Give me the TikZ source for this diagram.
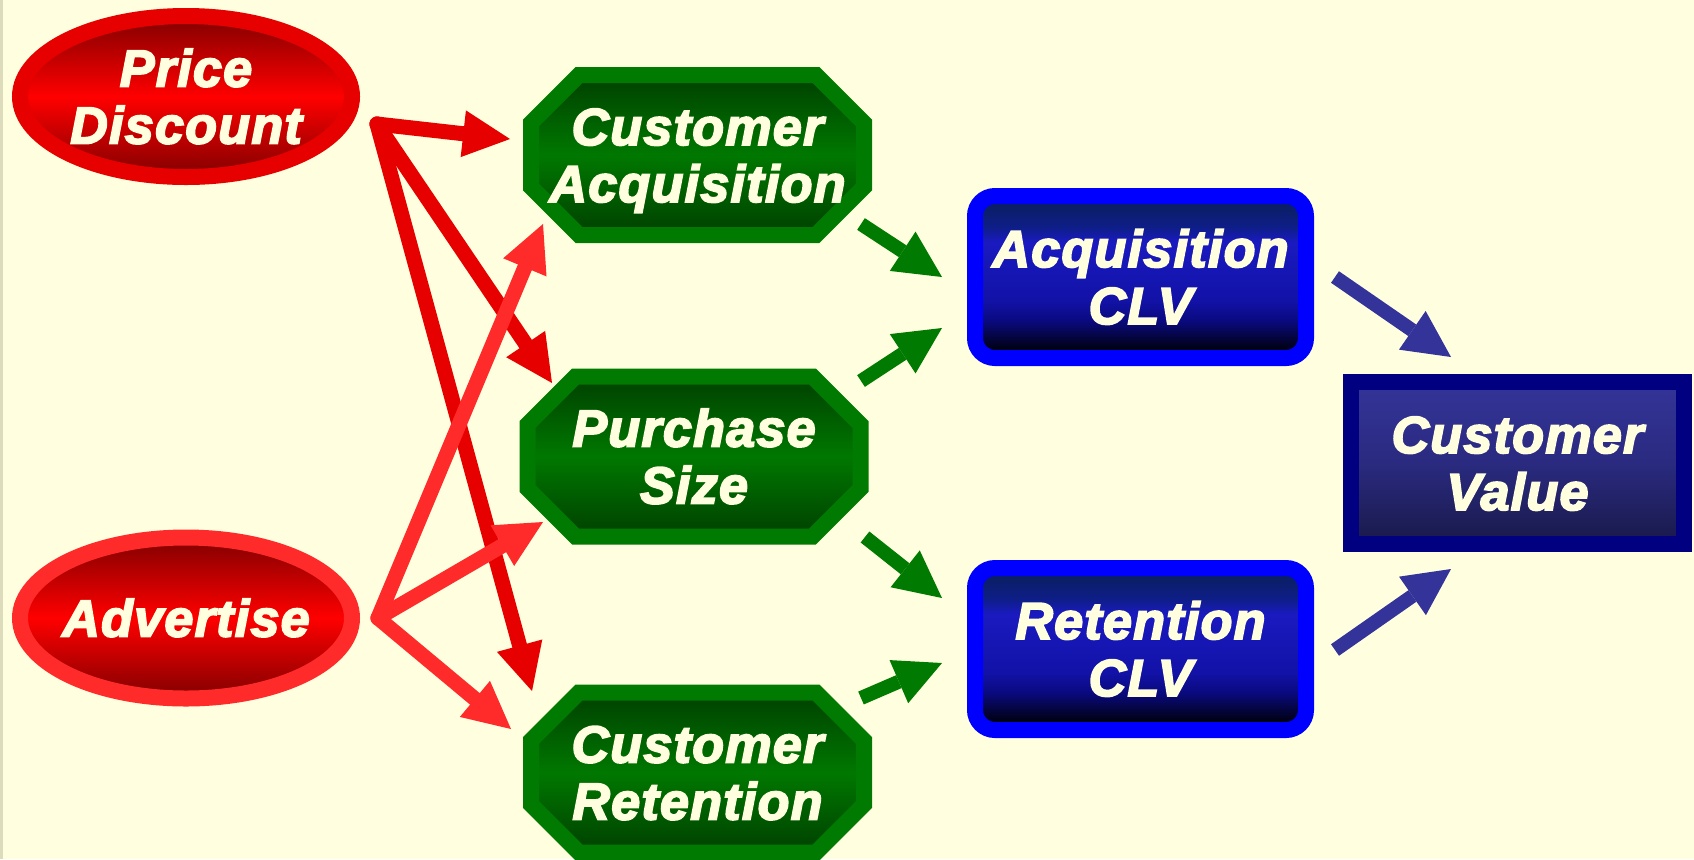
\documentclass[tikz,border=0pt]{standalone}
\usepackage{fontspec}
\newfontfamily\lblfont[FakeBold=3.5,LetterSpace=2.5]{Liberation Sans}
\usetikzlibrary{arrows.meta,shapes.geometric,calc}
\definecolor{bgyellow}{HTML}{FFFFE0}
\definecolor{stripc}{HTML}{DCDCBC}
\definecolor{pdred}{HTML}{E60000}
\definecolor{adred}{HTML}{FF2A2A}
\definecolor{dkred}{HTML}{800000}
\definecolor{brred}{HTML}{FF0000}
\definecolor{grn}{HTML}{007A00}
\definecolor{dkgrn}{HTML}{004000}
\definecolor{midgrn}{HTML}{007800}
\definecolor{clvblue}{HTML}{0000FF}
\definecolor{navyb}{HTML}{000080}
\definecolor{arrblue}{HTML}{333399}
\definecolor{cvtop}{HTML}{343499}
\definecolor{cvmid}{HTML}{2A2A80}
\definecolor{cvbot}{HTML}{19194A}
\definecolor{clvT}{HTML}{0A1E62}
\definecolor{clvA}{HTML}{0E1E88}
\definecolor{clvB}{HTML}{1A1AC0}
\definecolor{clvC}{HTML}{1212A8}
\definecolor{clvD}{HTML}{0A0A80}
\definecolor{clvE}{HTML}{000010}
\pgfdeclareverticalshading{clvshade}{100bp}{color(0bp)=(clvE); color(25bp)=(clvE); color(27.5bp)=(clvE); color(36.7bp)=(clvD); color(42.9bp)=(clvC); color(60.8bp)=(clvB); color(65.4bp)=(clvA); color(72.5bp)=(clvT); color(75bp)=(clvT); color(100bp)=(clvT)}
\pgfdeclarelayer{background}
\pgfsetlayers{background,main}
\newcommand\lbltwo[2]{\makebox[0pt]{\raisebox{-23.5pt}[0pt][0pt]{\begin{tabular}[b]{@{}c@{}}#1\\#2\end{tabular}}}}
\newcommand\lblone[1]{\makebox[0pt]{\raisebox{-9.25pt}[0pt][0pt]{#1}}}
\tikzset{
  lbl/.style={inner sep=0pt, outer sep=0pt, text=bgyellow,
    font=\lblfont\bfseries\itshape\fontsize{26pt}{28.5pt}\selectfont},
  ovalbox/.style={lbl, ellipse, minimum width=166pt, minimum height=80.5pt,
    line width=8pt, top color=dkred, bottom color=dkred, middle color=brred},
  octbox/.style={draw=grn, line width=8pt, top color=dkgrn, bottom color=dkgrn, middle color=midgrn},
  clvbox/.style={lbl, rectangle, rounded corners=10pt, minimum width=165.5pt,
    minimum height=81pt, draw=clvblue, line width=8pt, shade, shading=clvshade},
  cvbox/.style={lbl, rectangle, minimum width=166.5pt, minimum height=81pt,
    draw=navyb, line width=8pt, top color=cvtop, bottom color=cvbot, middle color=cvmid},
  bigtip/.style={-{Triangle[length=23.5pt,width=23.5pt,line width=0pt]}},
  redpd/.style={bigtip, draw=pdred, line width=7.5pt, line cap=round},
  redad/.style={bigtip, draw=adred, line width=7.5pt, line cap=round},
  grnarr/.style={bigtip, draw=grn, line width=7pt},
  bluarr/.style={bigtip, draw=arrblue, line width=7pt},
  octshape/.pic={\draw[octbox] (-118.5,-80) -- (118.5,-80) -- (166.5,-32) -- (166.5,32)
     -- (118.5,80) -- (-118.5,80) -- (-166.5,32) -- (-166.5,-32) -- cycle;}
}
\begin{document}
\begin{tikzpicture}[x=0.5pt,y=-0.5pt]
\useasboundingbox (0,0) rectangle (1694,859);
\begin{pgfonlayer}{background}
\fill[bgyellow] (0,0) rectangle (1694,859);
\fill[stripc] (0,0) rectangle (3,859);
\end{pgfonlayer}

% source ellipses
\node[ovalbox, draw=pdred] (pd) at (186,96.5) {\lbltwo{Price}{Discount}};
\node[ovalbox, draw=adred] (ad) at (186,618) {\lblone{Advertise}};

% green octagons (text nodes; shapes on background)
\node[lbl, minimum width=174.5pt, minimum height=88pt] (ca) at (697.5,155) {\lbltwo{Customer}{Acquisition}};
\node[lbl, minimum width=174.5pt, minimum height=88pt] (ps) at (694,456.5) {\lbltwo{Purchase}{Size}};
\node[lbl, minimum width=174.5pt, minimum height=88pt] (cr) at (697.5,772.5) {\lbltwo{Customer}{Retention}};
\begin{pgfonlayer}{background}
\pic at (ca) {octshape};
\pic at (ps) {octshape};
\pic at (cr) {octshape};
\end{pgfonlayer}

% CLV boxes
\node[clvbox] (aclv) at (1140.5,277) {\lbltwo{Acquisition}{CLV}};
\node[clvbox] (rclv) at (1140.5,649) {\lbltwo{Retention}{CLV}};

% customer value
\node[cvbox] (cv) at (1517.5,463) {\lbltwo{Customer}{Value}};

% connector end points
\coordinate (pd-o) at (377,124);
\coordinate (ad-o) at (378,618);
\coordinate (ca-i1) at (510,139);
\coordinate (ps-i1) at (552,383);
\coordinate (cr-i1) at (532,691);
\coordinate (ca-i2) at (543,224);
\coordinate (ps-i2) at (543,522);
\coordinate (cr-i2) at (511,729);
\coordinate (ca-o) at (861,224);
\coordinate (ps-o1) at (861,381);
\coordinate (ps-o2) at (865,537);
\coordinate (cr-o) at (861,698);
\coordinate (aclv-i1) at (942,277);
\coordinate (aclv-i2) at (942,328);
\coordinate (rclv-i1) at (942,598);
\coordinate (rclv-i2) at (942,663);
\coordinate (aclv-o) at (1335,277);
\coordinate (rclv-o) at (1335,650);
\coordinate (cv-i1) at (1451,357);
\coordinate (cv-i2) at (1451,569);

% red arrows
\draw[redpd] (pd-o) -- (ca-i1);
\draw[redpd] (pd-o) -- (ps-i1);
\draw[redpd] (pd-o) -- (cr-i1);
\draw[redad] (ad-o) -- (ca-i2);
\draw[redad] (ad-o) -- (ps-i2);
\draw[redad] (ad-o) -- (cr-i2);

% green arrows
\draw[grnarr] (ca-o) -- (aclv-i1);
\draw[grnarr] (ps-o1) -- (aclv-i2);
\draw[grnarr] (ps-o2) -- (rclv-i1);
\draw[grnarr] (cr-o) -- (rclv-i2);

% blue arrows
\draw[bluarr] (aclv-o) -- (cv-i1);
\draw[bluarr] (rclv-o) -- (cv-i2);
\end{tikzpicture}
\end{document}
